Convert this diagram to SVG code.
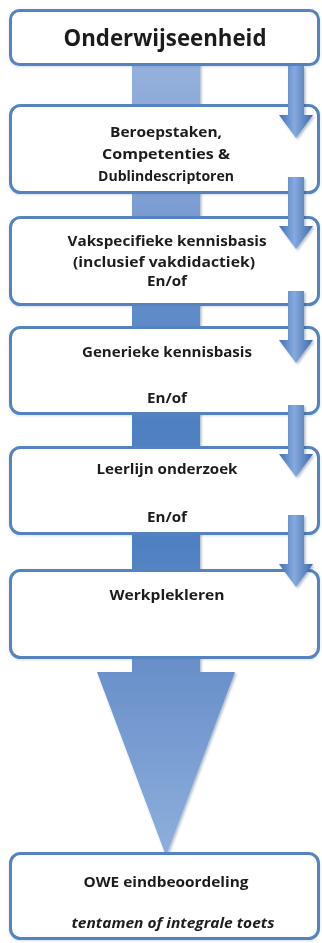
<svg xmlns="http://www.w3.org/2000/svg" width="322" height="943" viewBox="0 0 322 943">
  <defs>
    <!-- vertical shading of the central flow arrow -->
    <linearGradient id="flowFill" gradientUnits="userSpaceOnUse" x1="0" y1="60" x2="0" y2="860">
      <stop offset="0" stop-color="#96b1dc"/>
      <stop offset="0.17" stop-color="#7e9fd3"/>
      <stop offset="0.32" stop-color="#5f8bca"/>
      <stop offset="0.46" stop-color="#4f80c1"/>
      <stop offset="0.61" stop-color="#5081c2"/>
      <stop offset="0.76" stop-color="#6a90ca"/>
      <stop offset="1" stop-color="#8fb0dd"/>
    </linearGradient>
    <!-- cylindrical shading of the small side arrows -->
    <linearGradient id="sideFill" x1="0" y1="0" x2="1" y2="0">
      <stop offset="0" stop-color="#4271b2"/>
      <stop offset="0.45" stop-color="#86aadf"/>
      <stop offset="1" stop-color="#3d6aa8"/>
    </linearGradient>
    <filter id="soft" x="-20%" y="-20%" width="150%" height="150%">
      <feDropShadow dx="1.5" dy="1.5" stdDeviation="1.2" flood-color="#1f3b66" flood-opacity="0.35"/>
    </filter>
    <filter id="boxShadow" x="-5%" y="-10%" width="110%" height="130%">
      <feDropShadow dx="0" dy="1" stdDeviation="1" flood-color="#5a7fb5" flood-opacity="0.25"/>
    </filter>
    <path id="sideArrow" d="M288,0 H304 V49 H313 L296,72 L279,49 H288 Z"/>
  </defs>
  <style>
    .box { fill: #ffffff; stroke: #5583c0; stroke-width: 3; }
    .lbl { font-family: "Open Sans", "Liberation Sans", sans-serif; font-weight: bold; fill: #1c1c1c; text-anchor: middle; }
    .title { font-size: 24px; }
    .small { font-size: 14px; }
    .mid { font-size: 15px; }
    .ital { font-style: italic; }
  </style>

  <!-- central flow arrow behind the stack -->
  <g id="connectors-back">
    <path d="M132,62 H200 V672 H235 L166,856 L97,672 H132 Z" fill="url(#flowFill)" filter="url(#soft)"/>
  </g>

  <g id="node-onderwijseenheid" filter="url(#boxShadow)">
    <rect class="box" x="10.5" y="10.5" width="308" height="54" rx="9"/>
    <text class="lbl title" x="165" y="46" textLength="203" lengthAdjust="spacingAndGlyphs">Onderwijseenheid</text>
  </g>

  <g id="node-beroepstaken" filter="url(#boxShadow)">
    <rect class="box" x="10.5" y="105.5" width="308" height="87" rx="10"/>
    <text class="lbl small" x="166" y="137" textLength="112" lengthAdjust="spacingAndGlyphs">Beroepstaken,</text>
    <text class="lbl small" x="166" y="159" textLength="128" lengthAdjust="spacingAndGlyphs">Competenties &amp;</text>
    <text class="lbl small" x="166" y="181" textLength="136" lengthAdjust="spacingAndGlyphs">Dublindescriptoren</text>
  </g>

  <g id="node-vakspecifiek" filter="url(#boxShadow)">
    <rect class="box" x="10.5" y="217.5" width="308" height="87" rx="10"/>
    <text class="lbl mid" x="167" y="246" textLength="199" lengthAdjust="spacingAndGlyphs">Vakspecifieke kennisbasis</text>
    <text class="lbl mid" x="164" y="267" textLength="182" lengthAdjust="spacingAndGlyphs">(inclusief  vakdidactiek)</text>
    <text class="lbl mid" x="167" y="286" textLength="40" lengthAdjust="spacingAndGlyphs">En/of</text>
  </g>

  <g id="node-generiek" filter="url(#boxShadow)">
    <rect class="box" x="10.5" y="327.5" width="308" height="86" rx="10"/>
    <text class="lbl mid" x="167" y="357" textLength="170" lengthAdjust="spacingAndGlyphs">Generieke kennisbasis</text>
    <text class="lbl mid" x="167" y="403" textLength="40" lengthAdjust="spacingAndGlyphs">En/of</text>
  </g>

  <g id="node-leerlijn" filter="url(#boxShadow)">
    <rect class="box" x="10.5" y="447.5" width="308" height="86" rx="10"/>
    <text class="lbl mid" x="167" y="474" textLength="141" lengthAdjust="spacingAndGlyphs">Leerlijn onderzoek</text>
    <text class="lbl mid" x="167" y="522" textLength="40" lengthAdjust="spacingAndGlyphs">En/of</text>
  </g>

  <g id="node-werkplekleren" filter="url(#boxShadow)">
    <rect class="box" x="10.5" y="570.5" width="308" height="87" rx="10"/>
    <text class="lbl mid" x="167" y="600" textLength="115" lengthAdjust="spacingAndGlyphs">Werkplekleren</text>
  </g>

  <g id="node-eindbeoordeling" filter="url(#boxShadow)">
    <rect class="box" x="10.5" y="853.5" width="308" height="85" rx="10"/>
    <text class="lbl mid" x="166" y="887" textLength="165" lengthAdjust="spacingAndGlyphs">OWE eindbeoordeling</text>
    <text class="lbl mid ital" x="173" y="928" textLength="203" lengthAdjust="spacingAndGlyphs">tentamen of integrale toets</text>
  </g>

  <!-- small step arrows along the right edge -->
  <g id="connectors" fill="url(#sideFill)" filter="url(#soft)">
    <use href="#sideArrow" y="66"/>
    <use href="#sideArrow" y="177"/>
    <use href="#sideArrow" y="291"/>
    <use href="#sideArrow" y="405"/>
    <use href="#sideArrow" y="515"/>
  </g>
</svg>
